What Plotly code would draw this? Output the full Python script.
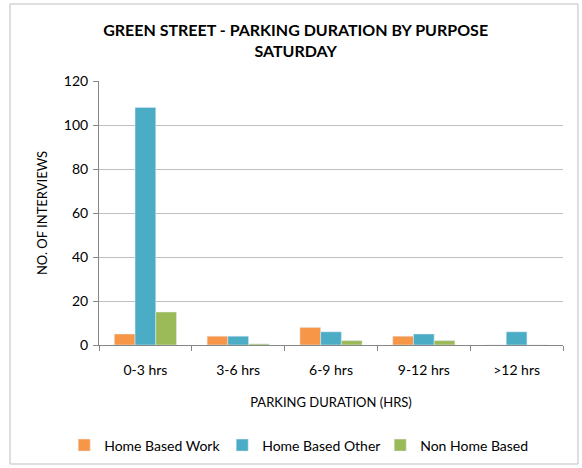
import plotly.graph_objects as go

# Parking duration categories and counts by trip purpose
durations = ["0-3 hrs", "3-6 hrs", "6-9 hrs", "9-12 hrs", ">12 hrs"]
home_based_work = [5, 4, 8, 4, 0]
home_based_other = [108, 4, 6, 5, 6]
non_home_based = [15, 0.5, 2, 2, 0]

FONT = "Lato"

fig = go.Figure()

fig.add_trace(go.Bar(x=durations, y=home_based_work, name="Home Based Work",
                     marker_color="#F79646"))
fig.add_trace(go.Bar(x=durations, y=home_based_other, name="Home Based Other",
                     marker_color="#4BACC6"))
fig.add_trace(go.Bar(x=durations, y=non_home_based, name="Non Home Based",
                     marker_color="#9BBB59"))

# outer chart border
fig.add_shape(type="rect", xref="paper", yref="paper",
              x0=-0.1918, x1=1.0323, y0=-0.4508, y1=1.2917,
              line=dict(color="#BFBFBF", width=1), layer="below")

fig.update_layout(
    width=582, height=468,
    margin=dict(l=99, r=19, t=81, b=123, autoexpand=False),
    paper_bgcolor="white", plot_bgcolor="white",
    font=dict(family=FONT, size=14, color="#000000"),
    title=dict(text="<b>GREEN STREET - PARKING DURATION BY PURPOSE<br>SATURDAY</b>",
               x=0.508, xanchor="center", y=0.923, yanchor="top",
               font=dict(family=FONT, size=16)),
    barmode="group", bargap=0.33, bargroupgap=0,
    showlegend=True,
    legend=dict(orientation="h", x=-0.075, xanchor="left", y=-0.32, yanchor="top",
                font=dict(family=FONT, size=14), itemwidth=30,
                entrywidth=113, entrywidthmode="pixels",
                traceorder="normal"),
    xaxis=dict(
        title=dict(text="PARKING DURATION (HRS)", font=dict(family=FONT, size=13), standoff=21),
        showline=True, linecolor="#868686", linewidth=1,
        ticks="outside", tickson="boundaries", ticklen=5, tickcolor="#868686",
        ticklabelstandoff=12,
        showgrid=False, tickfont=dict(size=14), automargin=False,
    ),
    yaxis=dict(
        title=dict(text="NO. OF INTERVIEWS", font=dict(family=FONT, size=13), standoff=13),
        range=[0, 120], dtick=20,
        showline=True, linecolor="#868686", linewidth=1,
        ticks="outside", ticklen=5, tickcolor="#868686", ticklabelstandoff=2,
        showgrid=True, gridcolor="#BFBFBF", gridwidth=1,
        zeroline=False, tickfont=dict(size=14), automargin=False,
    ),
)

# drop the default page margin so the figure sits at the window's origin
fig.write_html("out.html", config={"displayModeBar": False},
               post_script="document.body.style.margin='0';")
